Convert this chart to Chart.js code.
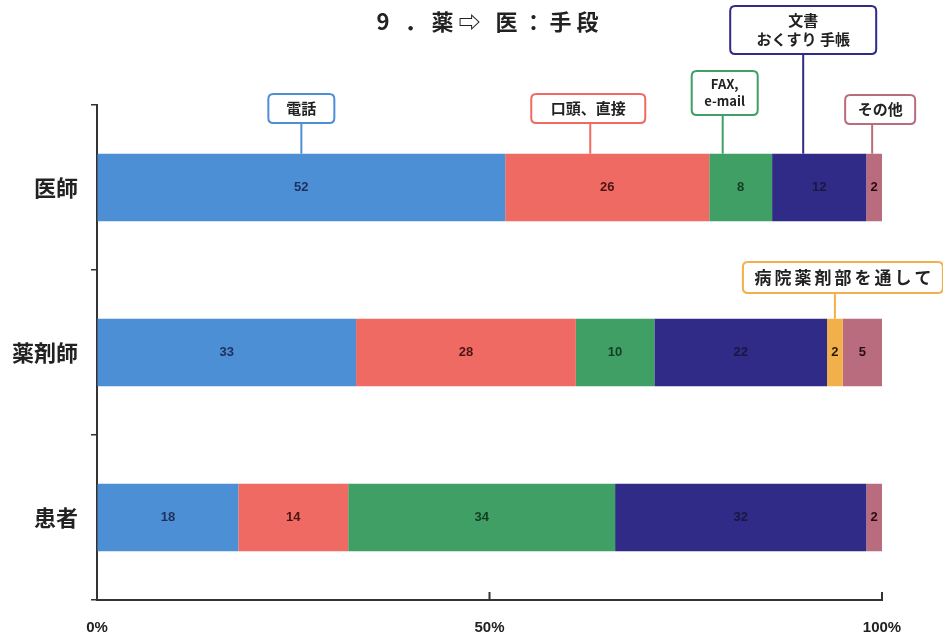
<!DOCTYPE html>
<html>
<head>
  <meta charset="utf-8">
  <title>薬⇨医：手段</title>
  <script src="https://cdn.jsdelivr.net/npm/chart.js"></script>
  <style>
    html, body { margin: 0; padding: 0; background: #fff; }
    #wrap { width: 943px; height: 644px; position: relative; }
  </style>
</head>
<body>
  <div id="wrap"><canvas id="chart"></canvas></div>

  <script>
    // data (percent)
    const categories = ['医師', '薬剤師', '患者'];
    const seriesNames = ['電話', '口頭、直接', 'FAX、e-mail', '文書 おくすり手帳', '病院薬剤部を通して', 'その他'];
    const phone    = [52, 33, 18];
    const oral     = [26, 28, 14];
    const faxMail  = [8, 10, 34];
    const document_ = [12, 22, 32];
    const hospital = [0, 2, 0];
    const other    = [2, 5, 2];
    const xTicks = [0, 50, 100];

    const colors = ['#4d8fd4', '#f06a64', '#3f9f64', '#2f2b86', '#f1b04a', '#b86c7e'];
    const labelColors = ['#1d2f5a', '#4a1512', '#123d22', '#1a1740', '#2a1a00', '#2a0a12'];

    // callout boxes: which bar they point at, how they sit
    const callouts = [
      { ds: 0, cat: 0, lines: ['電話'], dx: 0, boxDx: 0, top: 94, w: 66, font: 15, sp: 0 },
      { ds: 1, cat: 0, lines: ['口頭、直接'], dx: -17, boxDx: -2, top: 94, w: 114, font: 15, sp: 0 },
      { ds: 2, cat: 0, lines: ['FAX,', 'e-mail'], dx: -18, boxDx: 2, top: 71, w: 66, font: 13, sp: 0 },
      { ds: 3, cat: 0, lines: ['文書', 'おくすり 手帳'], dx: -16, boxDx: 0, top: 6, w: 146, font: 15, sp: 0 },
      { ds: 5, cat: 0, lines: ['その他'], dx: -2, boxDx: 8, top: 95, w: 70, font: 15, sp: 0 },
      { ds: 4, cat: 1, lines: ['病院薬剤部を通して'], dx: 0, boxDx: 8, top: 262, w: 200, font: 17, sp: 3 }
    ];

    function roundRect(ctx, x, y, w, h, r) {
      ctx.beginPath();
      ctx.moveTo(x + r, y);
      ctx.lineTo(x + w - r, y);
      ctx.quadraticCurveTo(x + w, y, x + w, y + r);
      ctx.lineTo(x + w, y + h - r);
      ctx.quadraticCurveTo(x + w, y + h, x + w - r, y + h);
      ctx.lineTo(x + r, y + h);
      ctx.quadraticCurveTo(x, y + h, x, y + h - r);
      ctx.lineTo(x, y + r);
      ctx.quadraticCurveTo(x, y, x + r, y);
      ctx.closePath();
    }

    const extras = {
      id: 'extras',
      afterDraw(chart) {
        const ctx = chart.ctx;
        const area = chart.chartArea;
        const xs = chart.scales.x;
        ctx.save();

        // title
        ctx.fillStyle = '#222';
        ctx.font = 'bold 22px "Noto Sans CJK JP"';
        ctx.textAlign = 'center';
        ctx.textBaseline = 'middle';
        ctx.letterSpacing = '5px';
        ctx.fillText('9 ．薬⇨ 医：手段', 490, 22);
        ctx.letterSpacing = '0px';

        // x tick marks pointing up
        ctx.strokeStyle = '#333';
        ctx.lineWidth = 2;
        xTicks.forEach(v => {
          const px = xs.getPixelForValue(v);
          ctx.beginPath();
          ctx.moveTo(px, area.bottom);
          ctx.lineTo(px, area.bottom - 8);
          ctx.stroke();
        });

        // values inside bars
        ctx.font = 'bold 13px "Liberation Sans Narrow", "Liberation Sans"';
        chart.data.datasets.forEach((ds, i) => {
          const meta = chart.getDatasetMeta(i);
          meta.data.forEach((bar, j) => {
            const v = ds.data[j];
            if (!v) return;
            ctx.fillStyle = labelColors[i];
            ctx.fillText(String(v), (bar.x + bar.base) / 2, bar.y);
          });
        });

        // callouts
        callouts.forEach(c => {
          const bar = chart.getDatasetMeta(c.ds).data[c.cat];
          const barTop = bar.y - bar.height / 2;
          const lx = (bar.x + bar.base) / 2 + c.dx;
          const lineH = c.font + 4;
          const h = c.lines.length * lineH + 10;
          const bx = lx + c.boxDx - c.w / 2;
          ctx.strokeStyle = colors[c.ds];
          ctx.lineWidth = 2;
          ctx.beginPath();
          ctx.moveTo(lx, c.top + h);
          ctx.lineTo(lx, barTop);
          ctx.stroke();
          roundRect(ctx, bx, c.top, c.w, h, 5);
          ctx.fillStyle = '#fff';
          ctx.fill();
          ctx.stroke();
          ctx.fillStyle = '#222';
          ctx.font = 'bold ' + c.font + 'px "Noto Sans CJK JP"';
          ctx.textAlign = 'center';
          ctx.letterSpacing = c.sp + 'px';
          c.lines.forEach((t, k) => {
            ctx.fillText(t, bx + c.w / 2 + c.sp / 2, c.top + 5 + lineH * k + lineH / 2);
          });
          ctx.letterSpacing = '0px';
        });
        ctx.restore();
      }
    };

    const seriesData = [phone, oral, faxMail, document_, hospital, other];

    new Chart(document.getElementById('chart'), {
      type: 'bar',
      data: {
        labels: categories,
        datasets: seriesData.map((d, i) => ({
          label: seriesNames[i],
          data: d,
          backgroundColor: colors[i],
          borderWidth: 0,
          barPercentage: 0.41,
          categoryPercentage: 1
        }))
      },
      options: {
        indexAxis: 'y',
        responsive: true,
        maintainAspectRatio: false,
        animation: false,
        layout: { padding: { top: 105, right: 61, left: 0, bottom: 0 } },
        plugins: {
          legend: { display: false },
          tooltip: { enabled: false },
          title: { display: false }
        },
        scales: {
          x: {
            stacked: true,
            min: 0,
            max: 100,
            afterBuildTicks: s => { s.ticks = xTicks.map(v => ({ value: v })); },
            afterFit: s => { s.height = 44; },
            grid: { display: true, drawOnChartArea: false, drawTicks: false },
            border: { color: '#333', width: 2 },
            ticks: {
              padding: 19,
              color: '#222',
              font: { family: '"Liberation Sans Narrow", "Liberation Sans"', weight: 'bold', size: 15 },
              callback: v => v + '%'
            }
          },
          y: {
            stacked: true,
            afterFit: s => { s.width = 97; },
            grid: { offset: true, drawOnChartArea: false, drawTicks: true, tickLength: 6, color: '#333', lineWidth: 1.5 },
            border: { color: '#333', width: 2 },
            ticks: {
              padding: 13,
              color: '#222',
              font: { family: '"Noto Sans CJK JP"', weight: 'bold', size: 22 }
            }
          }
        }
      },
      plugins: [extras]
    });
  </script>
</body>
</html>
